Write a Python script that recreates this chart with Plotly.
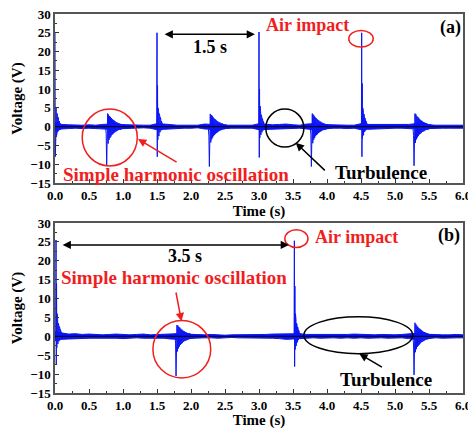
import plotly.graph_objects as go

# ---------------- data ----------------
NOISE_T = [round(0.1 * i, 1) for i in range(61)]          # 0.0 ... 6.0 s sampling grid

# panel (a) baseline noise envelope (V)
NOISE_UP_A = [1.2, 0.6, 0.5, 0.4, 0.4, 0.5, 0.4, 0.6, 0.7, 0.6,
              0.5, 0.4, 0.3, 0.4, 0.4, 0.8, 0.7, 0.5, 0.4, 0.4,
              0.3, 0.4, 0.7, 0.7, 0.5, 0.4, 0.4, 0.3, 0.4, 0.4,
              0.8, 0.6, 0.5, 0.6, 0.7, 0.5, 0.4, 0.7, 0.8, 0.6,
              0.5, 0.4, 0.5, 0.4, 0.4, 0.8, 0.6, 0.6, 0.5, 0.5,
              0.4, 0.4, 0.6, 0.8, 0.6, 0.5, 0.4, 0.4, 0.3, 0.4, 0.4]
NOISE_LO_A = [-1.2, -0.6, -0.5, -0.4, -0.5, -0.4, -0.5, -0.7, -0.7, -0.6,
              -0.5, -0.4, -0.4, -0.3, -0.4, -0.8, -0.7, -0.6, -0.4, -0.4,
              -0.4, -0.3, -0.6, -0.7, -0.6, -0.4, -0.4, -0.4, -0.3, -0.4,
              -0.8, -0.7, -0.6, -0.5, -0.6, -0.5, -0.4, -0.6, -0.8, -0.7,
              -0.5, -0.4, -0.4, -0.5, -0.4, -0.8, -0.7, -0.6, -0.5, -0.4,
              -0.4, -0.4, -0.5, -0.8, -0.7, -0.5, -0.4, -0.4, -0.4, -0.3, -0.4]

# panel (b) baseline noise envelope (V)
NOISE_UP_B = [1.2, 0.8, 0.6, 0.7, 0.5, 0.6, 0.5, 0.4, 0.5, 0.6,
              0.5, 0.4, 0.5, 0.6, 0.4, 0.5, 0.5, 0.7, 0.7, 0.6,
              0.5, 0.4, 0.4, 0.5, 0.4, 0.3, 0.4, 0.4, 0.5, 0.4,
              0.4, 0.5, 0.6, 0.6, 0.7, 0.8, 0.7, 0.5, 0.5, 0.4,
              0.4, 0.5, 0.4, 0.5, 0.6, 0.5, 0.4, 0.4, 0.5, 0.4,
              0.4, 0.5, 0.7, 0.8, 0.6, 0.5, 0.5, 0.4, 0.4, 0.5, 0.4]
NOISE_LO_B = [-1.2, -0.8, -0.7, -0.6, -0.6, -0.5, -0.5, -0.5, -0.4, -0.5,
              -0.6, -0.5, -0.4, -0.5, -0.5, -0.4, -0.5, -0.7, -0.8, -0.6,
              -0.5, -0.4, -0.4, -0.4, -0.5, -0.4, -0.3, -0.4, -0.4, -0.5,
              -0.4, -0.4, -0.5, -0.6, -0.8, -0.7, -0.6, -0.5, -0.4, -0.5,
              -0.4, -0.4, -0.5, -0.4, -0.5, -0.4, -0.5, -0.4, -0.4, -0.5,
              -0.4, -0.4, -0.6, -0.8, -0.7, -0.5, -0.4, -0.5, -0.4, -0.4, -0.4]

# impact bursts (air impact), sampled every IMPACT_DT seconds
IMPACT_DT = 0.004
IMPACT_A0 = [25.0, -8.0, 12.0, -3.0, 5.0, -2.5, 4.0, -2.0, 3.5, -1.5, 3.0, -1.2,
             2.5, -1.0, 2.0, -0.8, 1.5, -0.7, 1.2, -0.6, 0.8, -0.5]
IMPACT_A1 = [0.0, 25.0, -8.0, 11.0, -3.5, 5.0, -3.0, 4.0, -2.5, 3.5, -2.0, 3.0,
             -1.5, 2.5, -1.2, 2.0, -1.0, 1.5, -0.8, 1.2, -0.6, 0.8, -0.5]
IMPACT_A2 = [0.0, 25.2, -8.2, 10.0, -3.0, 5.5, -2.5, 4.0, -2.2, 3.2, -1.8, 2.8,
             -1.5, 2.2, -1.2, 1.8, -1.0, 1.4, -0.8, 1.0, -0.6, 0.7]
IMPACT_A3 = [0.0, 25.0, -8.0, 11.5, -3.2, 5.0, -2.8, 4.2, -2.3, 3.4, -1.8, 2.8,
             -1.4, 2.3, -1.2, 1.9, -1.0, 1.5, -0.8, 1.1, -0.6, 0.8, -0.5]
IMPACT_B0 = [0.0, 25.5, -7.5, 14.0, -3.0, 6.0, -2.5, 4.5, -2.0, 3.5, -1.6, 3.0,
             -1.3, 2.6, -1.0, 2.2, -0.9, 1.8, -0.8, 1.4, -0.7, 1.0, -0.6]
IMPACT_B1 = [0.0, 25.3, -8.0, 13.3, -3.5, 6.0, -3.0, 4.5, -2.5, 3.5, -2.0, 3.0,
             -1.6, 2.5, -1.3, 2.0, -1.0, 1.6, -0.8, 1.2, -0.6, 0.8, -0.5]

# damped "simple harmonic" bursts, sampled every RING_DT seconds
RING_DT = 0.007
RING_A0 = [-0.5, -2.0, -10.5, -5.0, 3.5, -4.5, 3.2, -3.5, 2.8, -3.0, 2.6, -2.6,
           2.3, -2.2, 2.0, -2.0, 1.8, -1.7, 1.6, -1.5, 1.4, -1.3, 1.2, -1.2,
           1.1, -1.0, 1.0, -0.9, 0.9, -0.8, 0.8, -0.8, 0.7, -0.7, 0.7, -0.6,
           0.6, -0.6, 0.5, -0.5]
RING_A1 = [-0.6, -2.5, -10.6, -5.5, 3.4, -4.2, 3.1, -3.4, 2.9, -2.9, 2.5, -2.5,
           2.2, -2.2, 2.0, -1.9, 1.8, -1.7, 1.5, -1.5, 1.4, -1.3, 1.2, -1.1,
           1.1, -1.0, 1.0, -0.9, 0.9, -0.8, 0.8, -0.7, 0.7, -0.7, 0.6, -0.6,
           0.6, -0.5, 0.5, -0.5]
RING_A2 = [-0.5, -2.2, -10.6, -5.2, 3.5, -4.4, 3.2, -3.5, 2.9, -3.0, 2.5, -2.5,
           2.3, -2.2, 2.0, -2.0, 1.8, -1.7, 1.6, -1.5, 1.4, -1.3, 1.3, -1.2,
           1.1, -1.0, 1.0, -0.9, 0.9, -0.9, 0.8, -0.8, 0.7, -0.7, 0.7, -0.6,
           0.6, -0.6, 0.5, -0.5]
RING_A3 = [-0.6, -2.4, -10.4, -5.0, 3.5, -4.3, 3.3, -3.4, 2.8, -2.9, 2.6, -2.5,
           2.3, -2.1, 2.0, -1.9, 1.7, -1.7, 1.6, -1.4, 1.4, -1.3, 1.2, -1.2,
           1.1, -1.0, 1.0, -0.9, 0.9, -0.8, 0.8, -0.8, 0.7, -0.7, 0.6, -0.6,
           0.6, -0.5, 0.5, -0.5]
RING_B0 = [0.8, -2.0, -10.5, -5.0, 3.0, -4.0, 2.8, -3.2, 2.5, -2.7, 2.3, -2.3,
           2.0, -2.0, 1.8, -1.8, 1.6, -1.5, 1.4, -1.3, 1.3, -1.2, 1.1, -1.1,
           1.0, -1.0, 0.9, -0.9, 0.8, -0.8, 0.8, -0.7, 0.7, -0.7, 0.6, -0.6,
           0.6, -0.5, 0.5, -0.5]
RING_B1 = [-0.5, -2.3, -10.2, -5.0, 3.6, -4.2, 3.2, -3.4, 2.8, -2.8, 2.5, -2.5,
           2.2, -2.2, 2.0, -1.9, 1.8, -1.6, 1.6, -1.5, 1.4, -1.3, 1.2, -1.2,
           1.1, -1.0, 1.0, -0.9, 0.9, -0.8, 0.8, -0.8, 0.7, -0.7, 0.6, -0.6,
           0.6, -0.5, 0.5, -0.5]

# burst start times (s)
BURSTS_A = [(0.00, IMPACT_DT, IMPACT_A0), (0.746, RING_DT, RING_A0),
            (1.496, IMPACT_DT, IMPACT_A1), (2.256, RING_DT, RING_A1),
            (2.996, IMPACT_DT, IMPACT_A2), (3.756, RING_DT, RING_A2),
            (4.506, IMPACT_DT, IMPACT_A3), (5.266, RING_DT, RING_A3)]
BURSTS_B = [(0.011, IMPACT_DT, IMPACT_B0), (1.766, RING_DT, RING_B0),
            (3.516, IMPACT_DT, IMPACT_B1), (5.266, RING_DT, RING_B1)]

X_TICKS = [0.0, 0.5, 1.0, 1.5, 2.0, 2.5, 3.0, 3.5, 4.0, 4.5, 5.0, 5.5, 6.0]
Y_TICKS = [-15, -10, -5, 0, 5, 10, 15, 20, 25, 30]

# ---------------- figure ----------------
BLUE = "#0a14f5"
RED = "#f01e1e"
FONT = "Liberation Serif, Times New Roman, serif"

fig = go.Figure()


def add_panel(xa, ya, up, lo, bursts):
    # noise band
    fig.add_trace(go.Scatter(x=NOISE_T, y=up, mode="lines", line=dict(color=BLUE, width=1),
                             xaxis=xa, yaxis=ya, showlegend=False, hoverinfo="skip"))
    fig.add_trace(go.Scatter(x=NOISE_T, y=lo, mode="lines", line=dict(color=BLUE, width=1),
                             fill="tonexty", fillcolor=BLUE,
                             xaxis=xa, yaxis=ya, showlegend=False, hoverinfo="skip"))
    for t0, dt, vals in bursts:
        ts = [t0 + i * dt for i in range(len(vals))]
        fig.add_trace(go.Scatter(x=ts, y=vals, mode="lines", line=dict(color=BLUE, width=1),
                                 xaxis=xa, yaxis=ya, showlegend=False, hoverinfo="skip"))


add_panel("x", "y", NOISE_UP_A, NOISE_LO_A, BURSTS_A)
add_panel("x2", "y2", NOISE_UP_B, NOISE_LO_B, BURSTS_B)

axis_common = dict(showline=True, mirror=True, linecolor="#555555", linewidth=1.5,
                   ticks="inside", ticklen=4, tickwidth=1, tickcolor="#333333",
                   showgrid=False, zeroline=False, automargin=False,
                   ticklabeloverflow="allow",
                   tickfont=dict(family=FONT, size=13, color="black", weight="bold"),
                   minor=dict(ticks="inside", ticklen=2, tickcolor="#333333"))

xcommon = dict(axis_common, range=[0, 6], tickvals=X_TICKS, tickformat=".1f",
               title=dict(text="Time (s)", font=dict(family=FONT, size=15, color="black", weight="bold"),
                          standoff=0))
ycommon = dict(axis_common, range=[-15, 30], tickvals=Y_TICKS,
               title=dict(text="Voltage (V)", font=dict(family=FONT, size=15, color="black", weight="bold"),
                          standoff=4))

# the page body adds an 8 px margin, so the figure is sized to fit the 476x429 window
fig.update_layout(
    width=468, height=421,
    margin=dict(l=47, r=13, t=6, b=36),
    paper_bgcolor="white", plot_bgcolor="white",
    xaxis=dict(xcommon, domain=[0, 1], anchor="y"),
    yaxis=dict(ycommon, domain=[0.554, 1], anchor="x"),
    xaxis2=dict(xcommon, domain=[0, 1], anchor="y2"),
    yaxis2=dict(ycommon, domain=[0, 0.4485], anchor="x2"),
)
fig.update_xaxes(minor_dtick=0.25)
fig.update_yaxes(minor_dtick=2.5)

# zero reference lines
for xr, yr in (("x", "y"), ("x2", "y2")):
    fig.add_shape(type="line", xref=xr + " domain", yref=yr, x0=0, x1=1, y0=0, y1=0,
                  line=dict(color="black", width=1), layer="above")

def txt(x, y, s, color, size, xr, yr):
    fig.add_annotation(x=x, y=y, xref=xr, yref=yr, text=s, showarrow=False,
                       font=dict(family=FONT, size=size, color=color, weight="bold"))

def arrow(x, y, ax, ay, color, xr, yr, both=False):
    fig.add_annotation(x=x, y=y, ax=ax, ay=ay, xref=xr, yref=yr, axref=xr, ayref=yr,
                       text="", showarrow=True, arrowhead=2, arrowsize=1.1, arrowwidth=1.5,
                       arrowcolor=color, arrowside="end+start" if both else "end",
                       startarrowhead=2, startarrowsize=1.1)

def ellipse(x0, x1, y0, y1, color, xr, yr):
    fig.add_shape(type="circle", xref=xr, yref=yr, x0=x0, x1=x1, y0=y0, y1=y1,
                  line=dict(color=color, width=1.5), layer="above")

# ---- panel (a) ----
txt(5.81, 26.5, "(a)", "black", 18, "x", "y")
txt(3.71, 27.0, "Air impact", RED, 18, "x", "y")
ellipse(4.32, 4.68, 21.2, 25.6, RED, "x", "y")
arrow(2.94, 24.6, 1.59, 24.6, "black", "x", "y", both=True)
txt(2.28, 21.3, "1.5 s", "black", 18, "x", "y")
ellipse(0.40, 1.21, -10.45, 4.7, RED, "x", "y")
arrow(1.22, -3.3, 1.81, -9.7, RED, "x", "y")
txt(1.78, -12.7, "Simple harmonic oscillation", RED, 19, "x", "y")
ellipse(3.10, 3.66, -5.4, 4.68, "black", "x", "y")
arrow(3.54, -4.3, 3.99, -12.0, "black", "x", "y")
txt(4.79, -12.1, "Turbulence", "black", 19, "x", "y")

# ---- panel (b) ----
txt(5.80, 26.8, "(b)", "black", 18, "x2", "y2")
txt(4.43, 26.3, "Air impact", RED, 18, "x2", "y2")
ellipse(3.38, 3.72, 23.5, 28.2, RED, "x2", "y2")
arrow(3.44, 24.2, 0.09, 24.2, "black", "x2", "y2", both=True)
txt(1.91, 21.4, "3.5 s", "black", 18, "x2", "y2")
txt(1.75, 15.6, "Simple harmonic oscillation", RED, 19, "x2", "y2")
arrow(1.86, 4.0, 1.775, 12.0, RED, "x2", "y2")
ellipse(1.44, 2.29, -11.0, 4.2, RED, "x2", "y2")
ellipse(3.66, 5.26, -4.6, 5.2, "black", "x2", "y2")
arrow(4.475, -4.6, 4.83, -8.4, "black", "x2", "y2")
txt(4.87, -11.3, "Turbulence", "black", 19, "x2", "y2")

fig.write_html("out.html")
